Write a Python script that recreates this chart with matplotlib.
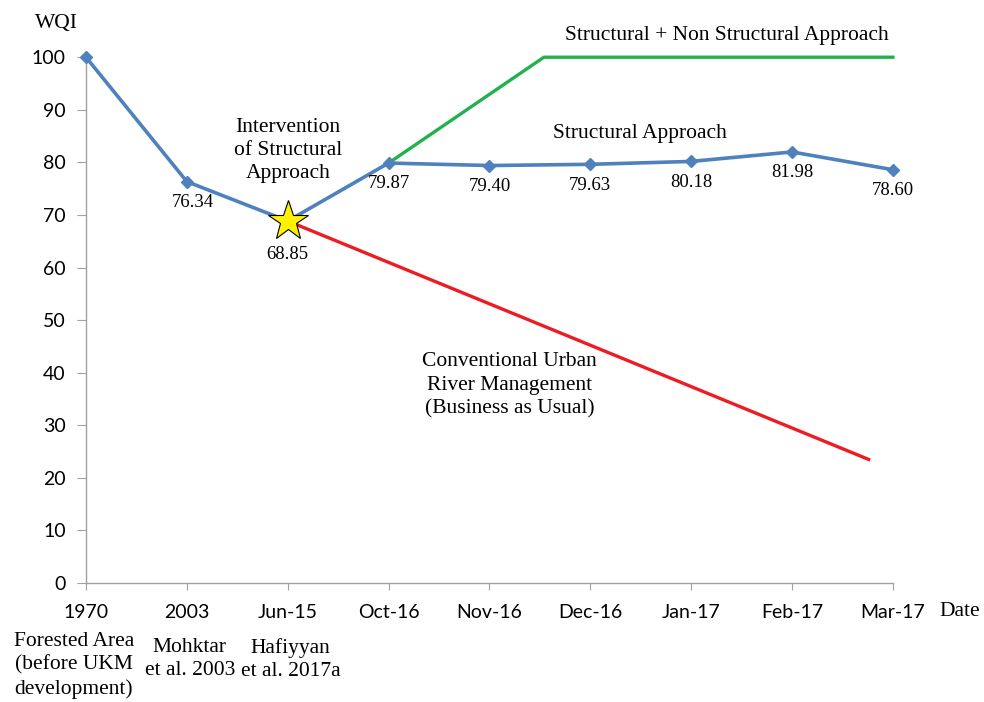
import matplotlib
matplotlib.use("Agg")
import matplotlib.pyplot as plt

# category labels on the x axis
dates = ["1970", "2003", "Jun-15", "Oct-16", "Nov-16", "Dec-16", "Jan-17", "Feb-17", "Mar-17"]
sources = ["Forested Area\n(before UKM\ndevelopment)", "Mohktar\net al. 2003", "Hafiyyan\net al. 2017a"]

# measured WQI
wqi = [100, 76.34, 68.85, 79.87, 79.40, 79.63, 80.18, 81.98, 78.60]

# scenario lines (x in category index units)
green_x = [3, 4.54, 8]
green_y = [79.87, 100, 100]
red_x = [2, 7.76]
red_y = [68.85, 23.5]

serif = "Liberation Serif"
sans = "Lato"
blue = "#4F81BD"

fig = plt.figure(figsize=(9.84, 7.02), dpi=100)
ax = fig.add_axes([0.0874, 0.1695, 0.820, 0.749])

x = list(range(len(dates)))

ax.plot(green_x, green_y, color="#22B14C", linewidth=2.4, zorder=2, clip_on=False)
ax.plot(red_x, red_y, color="#ED1C24", linewidth=2.4, zorder=2)
ax.plot(x, wqi, color=blue, linewidth=2.6, marker="D", markersize=6.5, zorder=3, clip_on=False)
ax.plot(x[2], wqi[2], marker="*", markersize=30, color="#FFF200",
        markeredgecolor="black", markeredgewidth=0.8, zorder=4)

# data labels
for i in range(1, len(x)):
    dy = -24 if i == 2 else -15
    dx = 4 if i == 1 else 0
    ax.annotate(f"{wqi[i]:.2f}", (x[i], wqi[i]), xytext=(dx, dy), textcoords="offset points",
                ha="center", va="center", fontsize=13.5, family=serif)

# annotations
ax.text(2.0, 82.3, "Intervention\nof Structural\nApproach", ha="center", va="center",
        fontsize=15.5, family=serif, linespacing=1.3)
ax.text(6.35, 104.2, "Structural + Non Structural Approach", ha="center", va="center",
        fontsize=15.5, family=serif, clip_on=False)
ax.text(5.49, 85.4, "Structural Approach", ha="center", va="center", fontsize=15.5, family=serif)
ax.text(4.2, 37.6, "Conventional Urban\nRiver Management\n(Business as Usual)", ha="center",
        va="center", fontsize=15.5, family=serif, linespacing=1.3)

# source labels under the axis
src_x = [-0.12, 1.03, 2.03]
src_y = [-9.3, -10.5, -10.5]
for sx, sy, s in zip(src_x, src_y, sources):
    ax.text(sx, sy, s, ha="center", va="top", fontsize=15.5, family=serif,
            linespacing=1.3, clip_on=False)

ax.text(-0.29, 106.5, "WQI", ha="center", va="center", fontsize=15.5, family=serif, clip_on=False)
ax.text(8.66, -5.5, "Date", ha="center", va="center", fontsize=15.5, family=serif, clip_on=False)

ax.set_xlim(0, 8)
ax.set_ylim(0, 100)
ax.set_xticks(x)
ax.set_xticklabels(dates, family=sans, fontsize=14)
ax.set_yticks(range(0, 101, 10))
ax.set_yticklabels([str(v) for v in range(0, 101, 10)], family=sans, fontsize=14)

for side in ["top", "right"]:
    ax.spines[side].set_visible(False)
for side in ["left", "bottom"]:
    ax.spines[side].set_color("#A0A0A0")
    ax.spines[side].set_linewidth(1.0)
ax.tick_params(axis="y", length=6.5, color="#A0A0A0", pad=8)
ax.tick_params(axis="x", length=5, color="#A0A0A0", pad=10)

fig.savefig("out.png", dpi=100)
